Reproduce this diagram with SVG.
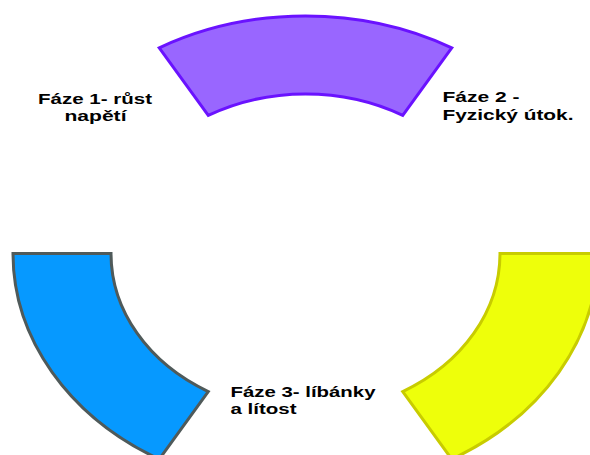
<svg xmlns="http://www.w3.org/2000/svg" width="590" height="455" viewBox="0 0 590 455">
<style>
.lbl{font-family:"Liberation Sans",Arial,sans-serif;font-weight:bold;font-size:15px;fill:#000}
.seg{stroke-width:3;stroke-linejoin:miter}
</style>
<rect width="590" height="455" fill="#fff"/>
<g id="phase1-segment">
<path class="seg" fill="#9966ff" stroke="#6a12ff" d="M159.25 47.8 A292.5 237.5 0 0 1 451.75 47.8 L402.75 115.4 A194.5 159.5 0 0 0 208.25 115.4 Z"/>
</g>
<g id="phase3-segment">
<path class="seg" fill="#0699ff" stroke="#4f5a5a" d="M13 253.5 L111 253.5 A194.5 159.5 0 0 0 208.25 391.6 L159.25 459.2 A292.5 237.5 0 0 1 13 253.5 Z"/>
</g>
<g id="phase2-segment">
<path class="seg" fill="#eeff0a" stroke="#c8cc00" d="M500 253.5 L598 253.5 A292.5 237.5 0 0 1 451.75 459.2 L402.75 391.6 A194.5 159.5 0 0 0 500 253.5 Z"/>
</g>
<g id="label-phase1">
<text class="lbl" x="95" y="103.5" text-anchor="middle" textLength="114" lengthAdjust="spacingAndGlyphs">Fáze 1- růst</text>
<text class="lbl" x="95.5" y="120.5" text-anchor="middle" textLength="62" lengthAdjust="spacingAndGlyphs">napětí</text>
</g>
<g id="label-phase2">
<text class="lbl" x="442.5" y="102" textLength="77" lengthAdjust="spacingAndGlyphs">Fáze 2 -</text>
<text class="lbl" x="442.5" y="119.5" textLength="131" lengthAdjust="spacingAndGlyphs">Fyzický útok.</text>
</g>
<g id="label-phase3">
<text class="lbl" x="230.5" y="397" textLength="145" lengthAdjust="spacingAndGlyphs">Fáze 3- líbánky</text>
<text class="lbl" x="230.5" y="414" textLength="66" lengthAdjust="spacingAndGlyphs">a lítost</text>
</g>
<g id="connectors"/>
</svg>
